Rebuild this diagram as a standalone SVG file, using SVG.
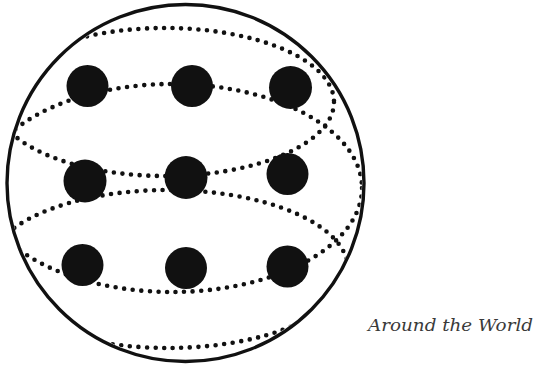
<svg xmlns="http://www.w3.org/2000/svg" width="535" height="366" viewBox="0 0 535 366">
  <style>
    .dotted { fill: none; stroke: #111111; stroke-width: 4.6; stroke-linecap: round; stroke-dasharray: 0 8.6; }
    .globe { fill: none; stroke: #111111; stroke-width: 3.4; }
    .spot { fill: #111111; }
    .caption { font-family: "DejaVu Serif", "Liberation Serif", serif; font-style: italic; font-size: 16.5px; fill: #3a3a3a; }
  </style>
  <defs>
    <clipPath id="inside">
      <circle cx="185.5" cy="183" r="176.5"/>
    </clipPath>
  </defs>
  <rect width="535" height="366" fill="#ffffff"/>
  <g id="connectors" clip-path="url(#inside)">
    <ellipse id="ring-top" class="dotted" cx="165" cy="102" rx="169" ry="74"/>
    <ellipse id="ring-middle" class="dotted" cx="172" cy="188" rx="190" ry="104"/>
    <ellipse id="ring-bottom" class="dotted" cx="168" cy="269" rx="180" ry="79"/>
  </g>
  <g id="globe">
    <circle class="globe" cx="185.5" cy="183" r="178.5"/>
  </g>
  <g id="dot-1"><circle class="spot" cx="87.5" cy="86" r="21"/></g>
  <g id="dot-2"><circle class="spot" cx="192" cy="86" r="21"/></g>
  <g id="dot-3"><circle class="spot" cx="290.5" cy="87.5" r="21.5"/></g>
  <g id="dot-4"><circle class="spot" cx="85" cy="181" r="21.5"/></g>
  <g id="dot-5"><circle class="spot" cx="186" cy="177.5" r="21.5"/></g>
  <g id="dot-6"><circle class="spot" cx="287.5" cy="174" r="21"/></g>
  <g id="dot-7"><circle class="spot" cx="82.5" cy="265" r="21"/></g>
  <g id="dot-8"><circle class="spot" cx="186" cy="268" r="21"/></g>
  <g id="dot-9"><circle class="spot" cx="287.5" cy="266.5" r="21"/></g>
  <g id="caption">
    <text class="caption" x="368" y="331" textLength="165" lengthAdjust="spacingAndGlyphs">Around the World</text>
  </g>
</svg>
